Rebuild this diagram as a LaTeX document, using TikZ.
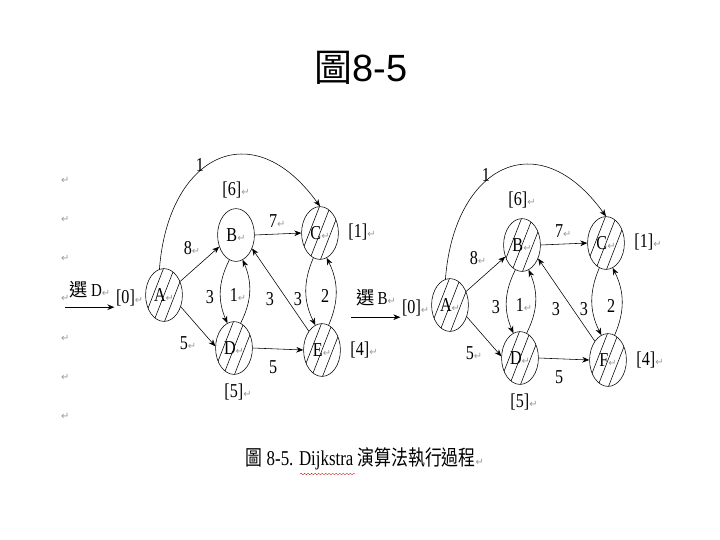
\documentclass[tikz,border=0pt]{standalone}
\usepackage{fontspec}
\setmainfont{Liberation Serif}
\newfontfamily\cjkfont{Noto Sans CJK TC}
\newfontfamily\headfont{Liberation Sans}
\newfontfamily\markfont{DejaVu Sans}
\usetikzlibrary{shapes.geometric,calc,arrows.meta,decorations.pathmorphing}

% small grey paragraph mark
\newcommand{\pmark}{{\markfont\fontsize{7}{7}\selectfont\color{black!40}↵}}
% narrow, tall lettering
\newcommand{\nar}[1]{\scalebox{0.82}[1]{#1}}

\tikzset{
  vert/.style={draw, ellipse, thin, minimum width=0.92cm, minimum height=1.32cm, inner sep=0pt, font=\fontsize{14}{15}\selectfont},
  hatch/.style={path picture={
      \foreach \k in {-3,...,3}
        \draw[thin] ($(path picture bounding box.center)+(\k*0.27,0)$) ++(-0.35,-0.9) -- ++(0.7,1.8);
    }},
  wt/.style={font=\fontsize{14}{15}\selectfont, inner sep=1pt},
  dist/.style={font=\fontsize{14}{15}\selectfont, inner sep=1pt},
  arc/.style={-{Stealth[length=5pt,width=4pt]}, thin}
}

\begin{document}
\begin{tikzpicture}
    \useasboundingbox (0,0) rectangle (18,-13.5);

    % Title
    \node[font=\fontsize{27}{30}\selectfont] (title) at (9.02,-1.7) {{\cjkfont 圖}{\headfont 8-5}};

    % paragraph marks down the left margin
    \foreach \py [count=\n] in {180,219,258,298,338,377,416}
        \node[inner sep=0pt] (pm\n) at (1.63,-\py/40) {\pmark};

    % Step: choose D
    \node[vert, hatch] (A) at (4.10,-7.375) {\nar{A}\pmark};
    \node[vert] (B) at (5.90,-5.875) {\nar{B}\pmark};
    \node[vert, hatch] (C) at (8.00,-5.825) {\nar{C}\pmark};
    \node[vert, hatch] (D) at (5.85,-8.70) {\nar{D}\pmark};
    \node[vert, hatch] (E) at (8.05,-8.75) {\nar{E}\pmark};

    \node[dist] (dB) at (5.90,-4.75) {\nar{[6]}\pmark};
    \node[dist] (dC) at (9.05,-5.80) {\nar{[1]}\pmark};
    \node[dist] (dA) at (3.24,-7.45) {\nar{[0]}\pmark};
    \node[dist] (dD) at (5.95,-9.80) {\nar{[5]}\pmark};
    \node[dist] (dE) at (9.10,-8.75) {\nar{[4]}\pmark};

    \coordinate (in) at (1.63,-7.68);
    \node[wt, font=\fontsize{13}{14}\selectfont] (pick) at (2.25,-7.25) {{\cjkfont 選}\,\nar{D}\pmark};
    \draw[arc, thick] (in) -- (dA.west |- in);

    \draw[arc] (A.100) .. controls (4.2,-3.9) and (6.3,-2.8) .. (C.north);
    \draw[arc] (A.40) -- (B.215);
    \draw[arc] (A.-35) -- (D.175);
    \draw[arc] (B.east) -- (C.west);
    \draw[arc] (B.255) to[bend right=25] (D.105);
    \draw[arc] (D.75) to[bend right=25] (B.285);
    \draw[arc] (E.125) -- (B.-40);
    \draw[arc] (C.255) to[bend right=25] (E.105);
    \draw[arc] (E.75) to[bend right=25] (C.285);
    \draw[arc] (D.east) -- (E.west);

    \node[wt] (wAC) at (5.00,-4.12) {\nar{1}};
    \node[wt] (wBC) at (6.93,-5.52) {\nar{7}\pmark};
    \node[wt] (wAB) at (4.80,-6.20) {\nar{8}\pmark};
    \node[wt] (wAD) at (4.70,-8.58) {\nar{5}\pmark};
    \node[wt] (wBD) at (5.25,-7.43) {\nar{3}};
    \node[wt] (wDB) at (5.95,-7.38) {\nar{1}\pmark};
    \node[wt] (wEB) at (6.75,-7.48) {\nar{3}};
    \node[wt] (wCE) at (7.45,-7.48) {\nar{3}};
    \node[wt] (wEC) at (8.13,-7.40) {\nar{2}};
    \node[wt] (wDE) at (6.83,-9.18) {\nar{5}};

    % Step: choose B
    \begin{scope}[shift={(7.15,-0.25)}]
        \node[vert, hatch] (A2) at (4.10,-7.375) {\nar{A}\pmark};
        \node[vert, hatch] (B2) at (5.90,-5.875) {\nar{B}\pmark};
        \node[vert, hatch] (C2) at (8.00,-5.825) {\nar{C}\pmark};
        \node[vert, hatch] (D2) at (5.85,-8.70) {\nar{D}\pmark};
        \node[vert, hatch] (F2) at (8.05,-8.75) {\nar{F}\pmark};

        \node[dist] (dB2) at (5.90,-4.75) {\nar{[6]}\pmark};
        \node[dist] (dC2) at (9.05,-5.80) {\nar{[1]}\pmark};
        \node[dist] (dA2) at (3.24,-7.45) {\nar{[0]}\pmark};
        \node[dist] (dD2) at (5.95,-9.80) {\nar{[5]}\pmark};
        \node[dist] (dF2) at (9.10,-8.75) {\nar{[4]}\pmark};

        \coordinate (in2) at (1.63,-7.68);
        \node[wt, font=\fontsize{13}{14}\selectfont] (pick2) at (2.25,-7.18) {{\cjkfont 選}\,\nar{B}\pmark};
        \draw[arc] (in2) -- (dA2.west |- in2);

        \draw[arc] (A2.100) .. controls (4.2,-3.9) and (6.3,-2.8) .. (C2.north);
        \draw[arc] (A2.40) -- (B2.215);
        \draw[arc] (A2.-35) -- (D2.175);
        \draw[arc] (B2.east) -- (C2.west);
        \draw[arc] (B2.255) to[bend right=25] (D2.105);
        \draw[arc] (D2.75) to[bend right=25] (B2.285);
        \draw[arc] (F2.125) -- (B2.-40);
        \draw[arc] (C2.255) to[bend right=25] (F2.105);
        \draw[arc] (F2.75) to[bend right=25] (C2.285);
        \draw[arc] (D2.east) -- (F2.west);

        \node[wt] (wAC2) at (5.00,-4.12) {\nar{1}};
        \node[wt] (wBC2) at (6.93,-5.52) {\nar{7}\pmark};
        \node[wt] (wAB2) at (4.80,-6.20) {\nar{8}\pmark};
        \node[wt] (wAD2) at (4.70,-8.58) {\nar{5}\pmark};
        \node[wt] (wBD2) at (5.25,-7.43) {\nar{3}};
        \node[wt] (wDB2) at (5.95,-7.38) {\nar{1}\pmark};
        \node[wt] (wFB2) at (6.75,-7.48) {\nar{3}};
        \node[wt] (wCF2) at (7.45,-7.48) {\nar{3}};
        \node[wt] (wFC2) at (8.13,-7.40) {\nar{2}};
        \node[wt] (wDF2) at (6.83,-9.18) {\nar{5}};
    \end{scope}

    % Caption
    \node[font=\fontsize{15}{17}\selectfont] (caption) at (9.12,-11.47)
        {\scalebox{0.8}[1]{{\cjkfont 圖} 8-5. Dijkstra {\cjkfont 演算法執行過程}}\pmark};
    \draw[red!70!black, very thin, decorate, decoration={snake, amplitude=0.5pt, segment length=2.5pt}]
        (7.5,-11.85) -- (8.88,-11.85);
\end{tikzpicture}
\end{document}
